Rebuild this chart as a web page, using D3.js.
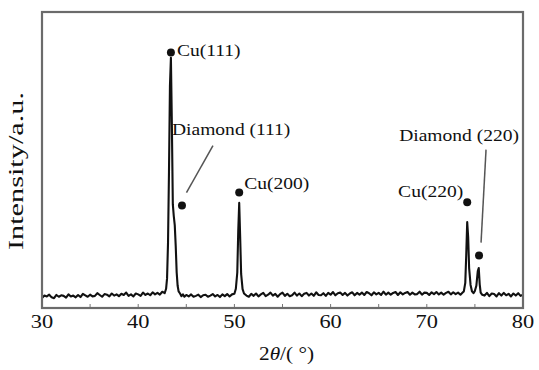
<!DOCTYPE html>
<html>
<head>
<meta charset="utf-8">
<script src="https://cdn.jsdelivr.net/npm/d3@7"></script>
<style>
  html, body { margin: 0; padding: 0; background: #fff; }
  svg text { font-family: "Liberation Serif", "Times New Roman", serif; fill: #111; }
</style>
</head>
<body>
<div id="chart"></div>
<script>
// 2theta positions (degrees), one row per two degrees on the baseline, finer around peaks
const twoTheta = [
  30.00, 30.25, 30.50, 30.75, 31.00, 31.25, 31.50, 31.75,
  32.00, 32.25, 32.50, 32.75, 33.00, 33.25, 33.50, 33.75,
  34.00, 34.25, 34.50, 34.75, 35.00, 35.25, 35.50, 35.75,
  36.00, 36.25, 36.50, 36.75, 37.00, 37.25, 37.50, 37.75,
  38.00, 38.25, 38.50, 38.75, 39.00, 39.25, 39.50, 39.75,
  40.00, 40.25, 40.50, 40.75, 41.00, 41.25, 41.50, 41.75,
  42.00, 42.25, 42.50, 42.75,
  42.90, 43.00, 43.10, 43.20, 43.30, 43.40, 43.50, 43.60, 43.70, 43.80,
  43.90, 44.00, 44.10, 44.20, 44.35, 44.50, 44.65, 44.80,
  45.00, 45.25, 45.50, 45.75, 46.00, 46.25, 46.50, 46.75,
  47.00, 47.25, 47.50, 47.75, 48.00, 48.25, 48.50, 48.75,
  49.00, 49.25, 49.50, 49.75,
  50.00, 50.15, 50.30, 50.40, 50.50, 50.60, 50.70, 50.85, 51.00,
  51.25, 51.50, 51.75,
  52.00, 52.25, 52.50, 52.75, 53.00, 53.25, 53.50, 53.75,
  54.00, 54.25, 54.50, 54.75, 55.00, 55.25, 55.50, 55.75,
  56.00, 56.25, 56.50, 56.75, 57.00, 57.25, 57.50, 57.75,
  58.00, 58.25, 58.50, 58.75, 59.00, 59.25, 59.50, 59.75,
  60.00, 60.25, 60.50, 60.75, 61.00, 61.25, 61.50, 61.75,
  62.00, 62.25, 62.50, 62.75, 63.00, 63.25, 63.50, 63.75,
  64.00, 64.25, 64.50, 64.75, 65.00, 65.25, 65.50, 65.75,
  66.00, 66.25, 66.50, 66.75, 67.00, 67.25, 67.50, 67.75,
  68.00, 68.25, 68.50, 68.75, 69.00, 69.25, 69.50, 69.75,
  70.00, 70.25, 70.50, 70.75, 71.00, 71.25, 71.50, 71.75,
  72.00, 72.25, 72.50, 72.75, 73.00, 73.25, 73.50, 73.75,
  73.85, 74.00, 74.10, 74.20, 74.30, 74.40, 74.55, 74.70,
  74.85, 75.00, 75.15, 75.30, 75.40, 75.50, 75.60, 75.75,
  76.00, 76.25, 76.50, 76.75, 77.00, 77.25, 77.50, 77.75,
  78.00, 78.25, 78.50, 78.75, 79.00, 79.25, 79.50, 79.75,
  80.00
];

// intensity (a.u., 0-100 scale), same layout as twoTheta
const intensity = [
  3.4, 4.2, 3.9, 4.5, 3.6, 3.3, 4.4, 3.8,
  4.3, 4.1, 3.5, 4.6, 3.9, 4.2, 3.6, 4.4,
  3.7, 4.8, 4.3, 3.8, 4.5, 3.9, 4.1, 5.0,
  4.4, 3.8, 4.7, 4.5, 3.9, 4.9, 4.2, 4.6,
  4.0, 4.8, 4.4, 5.2, 4.1, 4.6, 3.9, 4.9,
  4.6, 4.1, 5.2, 4.4, 4.9, 4.3, 5.3, 4.6,
  5.1, 4.5, 5.5, 5.0,
  6.5, 10.0, 22.0, 46.0, 75.0, 84.5, 62.0, 35.0, 31.0, 28.0,
  21.0, 12.0, 7.5, 5.6, 4.9, 4.0, 4.6, 3.8,
  4.4, 3.9, 4.6, 3.8, 4.1, 4.5, 3.7, 4.3,
  4.5, 3.8, 4.2, 4.7, 3.9, 4.4, 3.7, 4.6,
  4.0, 4.7, 3.9, 4.6,
  4.8, 6.5, 12.0, 26.0, 35.5, 24.0, 11.5, 6.4, 4.9,
  4.2, 3.8, 4.8,
  4.1, 4.9, 3.9, 4.6, 5.1, 4.0, 4.5, 5.2,
  4.2, 4.8, 3.8, 4.7, 5.2, 4.1, 4.8, 4.0,
  4.3, 5.2, 4.2, 4.9, 4.0, 4.8, 5.1, 4.2,
  4.9, 4.1, 5.3, 4.4, 4.3, 5.0, 4.1, 5.1,
  4.5, 5.4, 4.3, 5.0, 5.2, 4.4, 5.1, 4.2,
  4.9, 5.3, 4.3, 5.1, 4.5, 5.2, 4.4, 5.4,
  5.0, 4.3, 5.3, 4.6, 5.1, 4.4, 5.5, 4.5,
  5.2, 4.5, 5.1, 5.4, 4.4, 5.3, 4.6, 5.1,
  5.4, 4.5, 5.2, 4.6, 4.7, 5.5, 4.5, 5.2,
  5.1, 4.4, 5.3, 4.7, 5.4, 4.6, 5.2, 4.5,
  5.1, 5.5, 4.6, 5.3, 4.7, 5.2, 4.5, 5.3,
  5.6, 8.5, 18.0, 29.0, 24.0, 13.5, 7.8, 5.6,
  5.0, 5.8, 7.5, 12.5, 13.5, 8.0, 5.2, 4.5,
  4.2, 5.1, 4.0, 4.9, 4.7, 3.9, 5.0, 4.2,
  5.1, 4.3, 4.8, 3.9, 4.9, 4.2, 5.0, 4.1,
  4.5
];

const xTicks = [30, 40, 50, 60, 70, 80];
const xMinorTicks = [35, 40, 45, 50, 55, 60, 65, 70, 75];

// peak markers
const peakLabels = ['Cu(111)', 'Diamond (111)', 'Cu(200)', 'Cu(220)', 'Diamond (220)'];
const peakTheta = [43.4, 44.55, 50.5, 74.2, 75.43];
const peakMark = [86.3, 34.6, 39.0, 35.7, 17.7];

const width = 539, height = 370;
const margin = {top: 12, right: 16, bottom: 62, left: 42};
const innerW = width - margin.left - margin.right;
const innerH = height - margin.top - margin.bottom;

const svg = d3.select('#chart').append('svg')
  .attr('width', width)
  .attr('height', height);

const g = svg.append('g')
  .attr('transform', `translate(${margin.left},${margin.top})`);

const x = d3.scaleLinear().domain([30, 80]).range([0, innerW]);
const y = d3.scaleLinear().domain([0, 100]).range([innerH, 0]);

// text in the figure is a little wider than plain Times
function stretchedText(parent, px, py, str, size, sx, anchor) {
  return parent.append('text')
    .attr('transform', `translate(${px},${py}) scale(${sx},1)`)
    .attr('text-anchor', anchor || 'start')
    .style('font-size', size + 'px')
    .text(str);
}

g.append('clipPath').attr('id', 'plot-clip')
  .append('rect').attr('width', innerW).attr('height', innerH);

const points = twoTheta.map((t, i) => [t, intensity[i]]);
const line = d3.line()
  .x(d => x(d[0]))
  .y(d => y(d[1]));

g.append('path')
  .datum(points)
  .attr('clip-path', 'url(#plot-clip)')
  .attr('fill', 'none')
  .attr('stroke', '#111')
  .attr('stroke-width', 2.1)
  .attr('stroke-linejoin', 'round')
  .attr('d', line);

// small inward ticks along the bottom
g.selectAll('.minor')
  .data(xMinorTicks)
  .enter().append('line')
  .attr('x1', d => x(d)).attr('x2', d => x(d))
  .attr('y1', innerH).attr('y2', innerH - 4)
  .attr('stroke', '#777')
  .attr('stroke-width', 1);

// frame
g.append('rect')
  .attr('width', innerW)
  .attr('height', innerH)
  .attr('fill', 'none')
  .attr('stroke', '#6b6b6b')
  .attr('stroke-width', 2.2);

// tick labels
xTicks.forEach(t => {
  stretchedText(g, x(t), innerH + 20, String(t), 19, 1.18, 'middle');
});

// axis titles
const xt = g.append('text')
  .attr('transform', `translate(${innerW / 2 + 4},${innerH + 52}) scale(1.12,1)`)
  .attr('text-anchor', 'middle')
  .style('font-size', '19px');
xt.append('tspan').text('2');
xt.append('tspan').style('font-style', 'italic').text('θ');
xt.append('tspan').text('/( °)');

svg.append('text')
  .attr('transform', `translate(23,171) rotate(-90)`)
  .attr('text-anchor', 'middle')
  .attr('textLength', 158)
  .attr('lengthAdjust', 'spacingAndGlyphs')
  .style('font-size', '20px')
  .text('Intensity/a.u.');

// markers
const marks = peakLabels.map((label, i) => ({label, theta: peakTheta[i], value: peakMark[i]}));

g.selectAll('.mark')
  .data(marks)
  .enter().append('circle')
  .attr('cx', d => x(d.theta))
  .attr('cy', d => y(d.value))
  .attr('r', 4)
  .attr('fill', '#111');

// leader lines for the diamond peaks
const leaders = [
  {from: marks[1], dx1: 4.5, dy1: -13, dx2: 31, dy2: -60},
  {from: marks[4], dx1: 2, dy1: -13, dx2: 7, dy2: -106}
];
leaders.forEach(l => {
  const cx = x(l.from.theta), cy = y(l.from.value);
  g.append('line')
    .attr('x1', cx + l.dx1).attr('y1', cy + l.dy1)
    .attr('x2', cx + l.dx2).attr('y2', cy + l.dy2)
    .attr('stroke', '#555')
    .attr('stroke-width', 1.5);
});

// labels, offsets from their markers
const labelOffsets = [
  {dx: 6, dy: 3, anchor: 'start'},
  {dx: -10, dy: -71, anchor: 'start'},
  {dx: 5, dy: -4, anchor: 'start'},
  {dx: -4, dy: -5, anchor: 'end'},
  {dx: 40, dy: -115, anchor: 'end'}
];
marks.forEach((m, i) => {
  const o = labelOffsets[i];
  stretchedText(g, x(m.theta) + o.dx, y(m.value) + o.dy, m.label, 17, 1.15, o.anchor);
});
</script>
</body>
</html>
